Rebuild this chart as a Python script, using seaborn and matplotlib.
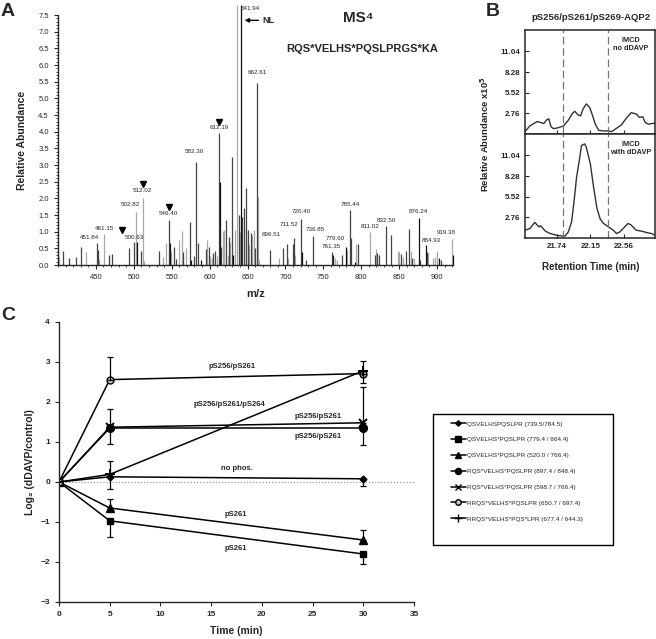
import matplotlib
matplotlib.use("Agg")
import matplotlib.pyplot as plt
from matplotlib.patches import Rectangle
from matplotlib.lines import Line2D
from matplotlib.ticker import MultipleLocator
import numpy as np
import pandas as pd
import seaborn as sns

sns.set_style("ticks")
plt.rcParams['font.family'] = ['Liberation Sans', 'DejaVu Sans']
plt.rcParams['axes.linewidth'] = 1.0

# ---------------- Panel A data: MS4 stick spectrum ----------------
ms_mz = [401.5, 406.5, 415.0, 424.0, 430.0, 436.5, 451.8, 453.0, 454.5, 461.2,
         467.0, 471.0, 493.5, 500.6, 502.8, 503.9, 510.0, 512.0, 513.5, 533.5,
         538.0, 542.0, 546.4, 547.5, 549.5, 553.0, 555.0, 559.0, 563.0, 565.0,
         569.0, 573.5, 575.5, 580.0, 582.3, 585.0, 589.0, 595.0, 597.0, 599.0,
         601.0, 603.0, 605.0, 607.0, 610.0, 612.2, 613.2, 615.0, 617.0, 619.0,
         622.0, 624.0, 625.5, 627.0, 629.5, 631.0, 633.0, 635.5, 638.5, 640.0,
         641.9, 643.0, 645.0, 647.5, 648.4, 650.3, 652.0, 654.0, 656.0, 658.0,
         660.0, 662.6, 663.5, 665.0, 679.0, 691.3, 696.5, 702.4, 704.0, 709.7,
         711.5, 713.0, 720.4, 721.5, 727.0, 736.9, 761.4, 762.5, 765.0, 768.0,
         774.0, 779.6, 781.0, 785.4, 787.0, 792.0, 793.2, 795.5, 811.0, 817.5,
         819.0, 821.0, 823.0, 832.5, 839.2, 848.0, 850.0, 852.0, 855.0, 859.0,
         862.4, 865.0, 867.0, 869.0, 876.2, 878.0, 884.9, 886.5, 888.5, 894.0,
         897.0, 900.0, 903.0, 905.0, 919.4, 920.5]
ms_int = [0.23, 0.42, 0.22, 0.24, 0.55, 0.40, 0.67, 0.45, 0.18, 0.93,
          0.30, 0.33, 0.50, 0.68, 1.60, 0.68, 0.42, 2.02, 0.12, 0.42,
          0.23, 0.65, 1.35, 0.65, 0.42, 0.55, 0.18, 0.75, 1.02, 0.40,
          0.52, 1.28, 0.15, 0.28, 3.10, 0.65, 0.15, 0.48, 0.76, 0.55,
          0.28, 0.22, 0.35, 0.42, 0.28, 3.95, 2.48, 0.55, 1.02, 1.05,
          1.35, 0.30, 0.85, 0.70, 3.25, 0.30, 1.05, 7.80, 1.50, 1.00,
          7.80, 1.45, 1.70, 2.30, 1.05, 1.05, 0.60, 0.95, 0.90, 1.05,
          0.50, 5.45, 2.05, 0.15, 0.45, 0.20, 0.50, 0.63, 0.20, 0.63,
          0.80, 0.30, 1.37, 0.40, 0.15, 0.87, 0.40, 0.30, 0.20, 0.15,
          0.30, 0.55, 0.45, 1.65, 0.80, 0.10, 0.63, 0.62, 1.00, 0.30,
          0.47, 0.35, 0.30, 1.17, 0.90, 0.40, 0.42, 0.33, 0.25, 0.42,
          1.07, 0.42, 0.20, 0.20, 1.40, 0.15, 0.60, 0.40, 0.35, 0.20,
          0.25, 0.42, 0.20, 0.15, 0.78, 0.30]
ms_shade = ['l', 'd', 'd', 'd', 'd', 'l', 'd', 'd', 'l', 'l',
            'd', 'd', 'd', 'd', 'l', 'k', 'd', 'l', 'l', 'd',
            'l', 'l', 'd', 'k', 'l', 'd', 'd', 'l', 'l', 'd',
            'l', 'd', 'k', 'd', 'd', 'd', 'k', 'd', 'l', 'd',
            'l', 'l', 'd', 'd', 'l', 'd', 'k', 'd', 'l', 'l',
            'd', 'l', 'd', 'l', 'd', 'k', 'l', 'l', 'd', 'l',
            'k', 'd', 'd', 'd', 'l', 'd', 'l', 'd', 'l', 'l',
            'd', 'd', 'l', 'l', 'd', 'l', 'd', 'd', 'l', 'd',
            'd', 'l', 'd', 'k', 'd', 'd', 'd', 'k', 'l', 'l',
            'd', 'k', 'l', 'd', 'd', 'k', 'l', 'd', 'l', 'd',
            'l', 'd', 'd', 'd', 'd', 'l', 'l', 'd', 'l', 'd',
            'd', 'l', 'd', 'l', 'k', 'd', 'k', 'd', 'l', 'l',
            'l', 'l', 'k', 'd', 'l', 'k']
peak_labels = ['451.84', '461.15', '500.63', '502.82', '512.02', '546.40',
               '582.30', '612.19', '641.94', '662.61', '696.51', '711.52',
               '720.40', '736.85', '761.35', '779.60', '785.44', '811.02',
               '832.50', '876.24', '884.93', '919.38']
# label anchor positions (layout)
peak_label_pos = [(442.2, 0.75), (461.0, 1.03), (500.5, 0.75), (494.9, 1.75),
                  (511.6, 2.17), (545.3, 1.47), (580.4, 3.33), (612.0, 4.04),
                  (653.0, 7.62), (662.4, 5.7), (681.3, 0.83), (705.4, 1.15),
                  (720.8, 1.52), (739.6, 0.98), (760.3, 0.48), (765.9, 0.73),
                  (785.2, 1.73), (811.6, 1.07), (832.6, 1.27), (875.5, 1.52),
                  (891.8, 0.65), (912.4, 0.90)]
triangle_mz = [484.5, 512.0, 546.0, 612.2]
triangle_y = [1.05, 2.42, 1.75, 4.30]

# ---------------- Panel B data: extracted ion chromatograms ----------------
rt_no = [21.35, 21.41, 21.50, 21.54, 21.58, 21.61, 21.64, 21.67, 21.70, 21.76,
         21.82, 21.88, 21.93, 21.96, 22.00, 22.03, 22.06, 22.10, 22.14, 22.17,
         22.21, 22.25, 22.31, 22.37, 22.41, 22.47, 22.53, 22.59, 22.65, 22.71,
         22.75, 22.79, 22.82, 22.86, 22.90, 22.94]
ab_no = [0.32, 1.09, 1.67, 1.54, 1.40, 1.85, 2.03, 0.94, 0.71, 0.85,
         1.07, 1.84, 2.76, 3.03, 2.53, 2.44, 3.35, 4.02, 3.57, 2.67,
         1.31, 0.50, 0.41, 0.41, 0.32, 0.77, 1.22, 2.13, 2.85, 2.67,
         2.22, 2.31, 1.54, 1.31, 1.40, 1.45]
rt_dd = [21.35, 21.41, 21.47, 21.52, 21.54, 21.60, 21.66, 21.74, 21.80, 21.84,
         21.88, 21.92, 21.95, 21.98, 22.02, 22.04, 22.08, 22.10, 22.15, 22.19,
         22.23, 22.27, 22.31, 22.37, 22.43, 22.47, 22.51, 22.57, 22.61, 22.65,
         22.71, 22.78, 22.84, 22.90, 22.94]
ab_dd = [1.04, 1.27, 2.08, 1.49, 1.63, 0.91, 0.59, 0.36, 0.27, 0.27,
         0.81, 2.17, 4.88, 8.05, 10.77, 12.35, 12.58, 12.13, 9.87, 6.70,
         3.98, 2.53, 1.95, 1.49, 1.04, 0.59, 0.81, 1.49, 1.95, 1.72,
         1.04, 0.91, 0.72, 0.59, 0.36]
b_yticks = [2.76, 5.52, 8.28, 11.04]
b_xticks = [21.74, 22.15, 22.56]
b_window = [21.815, 22.362]

# ---------------- Panel C data: time course ----------------
times = [0, 5, 30]
series_labels = ['QSVELHSPQSLPR (739.5/784.5)',
                 'QSVELHS*PQSLPR (779.4 / 864.4)',
                 'QSVELHS*PQSLPR (520.0 / 766.4)',
                 'RQS*VELHS*PQSLPR (897.4 / 848.4)',
                 'RQS*VELHS*PQSLPR (598.7 / 766.4)',
                 'RRQS*VELHS*PQSLPR (650.7 / 697.4)',
                 'RRQS*VELHS*PQS*LPR (677.4 / 644.3)']
y_nophos = [0, 0.13, 0.08]
y_sq = [0, -0.97, -1.80]
y_tri = [0, -0.65, -1.45]
y_circ = [0, 1.35, 1.35]
y_x = [0, 1.37, 1.48]
y_ocirc = [0, 2.56, 2.71]
y_plus = [0, 0.19, 2.78]
lo_nophos = [0, 0.31, 0.19]
hi_nophos = [0, 0, 0]
lo_sq = [0, 0.40, 0.24]
hi_sq = [0, 0, 0]
lo_tri = [0, 0, 0]
hi_tri = [0, 0.22, 0.26]
lo_circ = [0, 0.39, 0.42]
hi_circ = [0, 0, 0]
lo_x = [0, 0, 0]
hi_x = [0, 0.45, 0.89]
lo_ocirc = [0, 0, 0]
hi_ocirc = [0, 0.56, 0.32]
lo_plus = [0, 0, 0.30]
hi_plus = [0, 0.34, 0]
c_annot = ['pS256/pS261', 'pS256/pS261/pS264', 'pS256/pS261', 'pS256/pS261',
           'no phos.', 'pS261', 'pS261']
c_annot_pos = [(17.1, 2.88), (16.8, 1.95), (25.5, 1.64), (25.5, 1.13),
               (17.5, 0.33), (17.45, -0.80), (17.45, -1.65)]

# ---------------- Figure ----------------
W, H = 656, 639
fig = plt.figure(figsize=(W / 100, H / 100), dpi=100)


def fx(px):
    return px / W


def fy(py):
    return 1 - py / H


def box(l, t, r, b):
    return [fx(l), fy(b), fx(r) - fx(l), fy(t) - fy(b)]


# ---- Panel A ----
axA = fig.add_axes(box(58, 15, 453, 265))
shade_map = {'k': '#111111', 'd': '#444444', 'l': '#a8a8a8'}
dfA = pd.DataFrame({'mz': ms_mz, 'int': ms_int, 'shade': ms_shade})
for sh in ['l', 'd', 'k']:
    sub = dfA[dfA['shade'] == sh]
    axA.vlines(sub['mz'], 0, sub['int'], color=shade_map[sh], lw=0.9, clip_on=False)
axA.set_xlim(400, 921)
axA.set_ylim(0, 7.5)
axA.xaxis.set_major_locator(MultipleLocator(50))
axA.xaxis.set_minor_locator(MultipleLocator(10))
axA.yaxis.set_major_locator(MultipleLocator(0.5))
axA.yaxis.set_minor_locator(MultipleLocator(0.1))
axA.set_xticks(np.arange(450, 901, 50))
axA.yaxis.set_major_formatter(matplotlib.ticker.FormatStrFormatter('%.1f'))
axA.tick_params(axis='both', which='major', labelsize=5.5, length=3, width=0.8)
axA.tick_params(axis='both', which='minor', length=1.5, width=0.6)
sns.despine(ax=axA)
axA.set_ylabel('Relative Abundance', fontsize=7.5, fontweight='bold', labelpad=8)
axA.set_xlabel('m/z', fontsize=8, fontweight='bold', labelpad=6)
for lab, (px, py) in zip(peak_labels, peak_label_pos):
    axA.text(px, py, lab, fontsize=4.5, ha='center', va='bottom', clip_on=False)
axA.plot(triangle_mz, triangle_y, linestyle='none', marker='v', color='black',
         markersize=5, clip_on=False)
axA.annotate('', xy=(642.5, 7.34), xytext=(668, 7.34),
             arrowprops=dict(arrowstyle='-|>', color='black', lw=1, mutation_scale=6))
axA.text(670, 7.34, 'NL', fontsize=6.5, fontweight='bold', va='center', ha='left')
fig.text(fx(358), fy(18), 'MS⁴', fontsize=11, fontweight='bold', ha='center', va='center')
fig.text(fx(362), fy(49), 'RQS*VELHS*PQSLPRGS*KA', fontsize=8, fontweight='bold',
         ha='center', va='center')
fig.text(fx(1), fy(12), 'A', fontsize=14, fontweight='bold', ha='left', va='center')

# ---- Panel B ----
axB1 = fig.add_axes(box(525, 30, 655, 134))
axB2 = fig.add_axes(box(525, 134, 655, 238))
sns.lineplot(x=rt_no, y=ab_no, ax=axB1, color='#333333', lw=1.0)
sns.lineplot(x=rt_dd, y=ab_dd, ax=axB2, color='#333333', lw=1.0)
for ax in (axB1, axB2):
    ax.set_xlim(21.35, 22.94)
    ax.set_ylim(0, 13.9)
    ax.set_yticks(b_yticks)
    ax.set_yticklabels([f'{v:.2f}' for v in b_yticks])
    ax.set_xticks(b_xticks)
    ax.tick_params(direction='in', length=3, width=0.8, labelsize=5.8)
    for t in ax.get_yticklabels():
        t.set_fontweight('bold')
    for xv in b_window:
        ax.axvline(xv, color='#777777', lw=0.9, ls=(0, (6, 3)))
    for s in ax.spines.values():
        s.set_linewidth(1.1)
axB1.tick_params(labelbottom=False)
axB2.set_xticklabels([f'{v:.2f}' for v in b_xticks])
for t in axB2.get_xticklabels():
    t.set_fontweight('bold')
axB1.text(0.95, 0.93, 'IMCD\nno dDAVP', transform=axB1.transAxes, ha='right', va='top',
          fontsize=5.3, fontweight='bold', linespacing=1.1, multialignment='center')
axB2.text(0.97, 0.93, 'IMCD\nwith dDAVP', transform=axB2.transAxes, ha='right', va='top',
          fontsize=5.3, fontweight='bold', linespacing=1.1, multialignment='center')
fig.text(fx(591), fy(17), 'pS256/pS261/pS269-AQP2', fontsize=6.8, fontweight='bold',
         ha='center', va='center')
fig.text(fx(485), fy(134), 'Relative Abundance x10$^\\mathbf{5}$', fontsize=6.8,
         fontweight='bold', rotation=90, ha='center', va='center')
fig.text(fx(591), fy(267), 'Retention Time (min)', fontsize=7, fontweight='bold',
         ha='center', va='center')
fig.text(fx(486), fy(12), 'B', fontsize=14, fontweight='bold', ha='left', va='center')

# ---- Panel C ----
axC = fig.add_axes(box(59, 322, 414, 602))
axC.axhline(0, color='#999999', lw=0.9, ls=(0, (1, 1.5)))
series = [
    (y_nophos, lo_nophos, hi_nophos, 'D', 'black', 3.5),
    (y_sq, lo_sq, hi_sq, 's', 'black', 5),
    (y_tri, lo_tri, hi_tri, '^', 'black', 5.5),
    (y_circ, lo_circ, hi_circ, 'o', 'black', 5.5),
    (y_x, lo_x, hi_x, 'x', 'black', 5.5),
    (y_ocirc, lo_ocirc, hi_ocirc, 'o', '#c8c8c8', 5),
    (y_plus, lo_plus, hi_plus, '+', 'black', 7),
]
handles = []
for (yy, lo, hi, mk, fc, ms), lab in zip(series, series_labels):
    df = pd.DataFrame({'t': times, 'y': yy})
    sns.lineplot(data=df, x='t', y='y', ax=axC, color='black', lw=1.1,
                 marker=mk, markersize=ms, markerfacecolor=fc, markeredgecolor='black',
                 markeredgewidth=1.0 if mk not in ('x', '+') else 1.4)
    axC.errorbar(times[1:], yy[1:], yerr=[lo[1:], hi[1:]], fmt='none', ecolor='black',
                 elinewidth=0.9, capsize=2.5, capthick=0.9)
    handles.append(Line2D([], [], color='black', lw=1.1, marker=mk, markersize=ms * 0.8,
                          markerfacecolor=fc, markeredgecolor='black'))
axC.set_xlim(0, 35)
axC.set_ylim(-3, 4)
axC.set_xticks(range(0, 36, 5))
axC.set_yticks(range(-3, 5))
axC.tick_params(labelsize=6, length=3, width=0.8)
for t in axC.get_xticklabels() + axC.get_yticklabels():
    t.set_fontweight('bold')
sns.despine(ax=axC)
axC.set_xlabel('Time (min)', fontsize=7.5, fontweight='bold', labelpad=6)
axC.set_ylabel('Log₂ (dDAVP/control)', fontsize=7.5, fontweight='bold', labelpad=4)
for lab, (px, py) in zip(c_annot, c_annot_pos):
    axC.text(px, py, lab, fontsize=5.5, fontweight='bold', ha='center', va='center')
fig.text(fx(1), fy(316), 'C', fontsize=14, fontweight='bold', ha='left', va='center')

# legend box
fig.add_artist(Rectangle((fx(433), fy(545)), fx(613) - fx(433), fy(414) - fy(545),
                         transform=fig.transFigure, fill=False, edgecolor='black', lw=1.0))
fig.legend(handles, series_labels, loc='upper left',
           bbox_to_anchor=(fx(446), fy(416)), frameon=False, fontsize=4.6,
           handlelength=2.3, handletextpad=0.15, labelspacing=1.62, borderpad=0.3)

fig.savefig('out.png', dpi=100)
